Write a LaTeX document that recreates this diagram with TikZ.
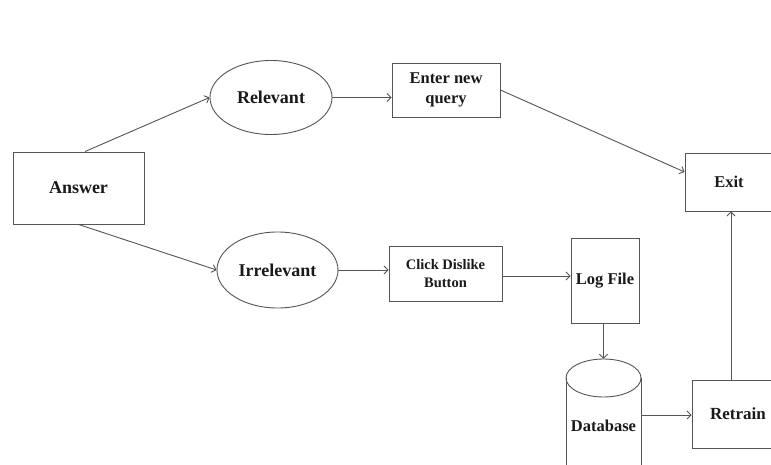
\documentclass[tikz,border=0pt]{standalone}
\usepackage{fontspec}
\setmainfont{Liberation Serif}
\usetikzlibrary{shapes.geometric,arrows.meta}
\definecolor{ln}{HTML}{555555}
\definecolor{tx}{HTML}{1A1A1A}
\tikzset{
  base/.style={draw=ln, line width=0.9pt, inner sep=0pt, text=tx, font=\bfseries\fontsize{16.5}{20}\selectfont, align=center},
  boxnode/.style={base, rectangle},
  ellnode/.style={base, ellipse, font=\bfseries\fontsize{18}{20}\selectfont},
  arr/.style={draw=ln, line width=0.9pt, -{Straight Barb[length=4pt,width=8pt]}},
  plain/.style={draw=ln, line width=0.9pt}
}
\begin{document}
\begin{tikzpicture}[x=1pt,y=-1pt]
\clip (0,0) rectangle (771,465);
\fill[white] (0,0) rectangle (771,465);
% nodes
\node[boxnode, minimum width=131pt, minimum height=72pt, font=\bfseries\fontsize{18}{20}\selectfont] (ans) at (78.5,188) {Answer};
\node[ellnode, minimum width=122pt, minimum height=74pt] (rel) at (271,97.5) {Relevant};
\node[ellnode, minimum width=121pt, minimum height=76pt] (irr) at (277.5,270) {Irrelevant};
\node[boxnode, minimum width=108pt, minimum height=54pt] (enq) at (446,90) {Enter new\\query};
\node[boxnode, minimum width=113pt, minimum height=55pt, font=\bfseries\fontsize{14.5}{18}\selectfont] (cdb) at (445.5,273.5) {Click Dislike\\Button};
\node[boxnode, minimum width=68pt, minimum height=85pt] (lf) at (605,280.5) {Log File};
\node[boxnode, minimum width=88pt, minimum height=58pt] (ex) at (729,182) {Exit};
\node[boxnode, minimum width=92pt, minimum height=68pt, font=\bfseries\fontsize{17}{20}\selectfont] (rt) at (738,414) {Retrain};
% database cylinder
\node[minimum width=75pt, minimum height=112pt, inner sep=0pt] (db) at (603.5,415) {};
\draw[plain, fill=white] (566,378) -- (566,480) -- (641,480) -- (641,378);
\draw[plain] (603.5,378) ellipse [x radius=37.5, y radius=19];
\node[text=tx, font=\bfseries\fontsize{16.5}{20}\selectfont] (dbl) at (603.5,426) {Database};
% connectors
\draw[arr] ([xshift=6.5pt]ans.north) -- (rel.west);
\draw[arr] (ans.south) -- (irr.west);
\draw[arr] (rel.east) -- (rel.east -| enq.west);
\draw[arr] (irr.east) -- (irr.east -| cdb.west);
\draw[arr] (enq.east) -- ([yshift=10pt]ex.west);
\coordinate (c1) at ([yshift=-2.5pt]cdb.east);
\draw[arr] (c1) -- (c1 -| lf.west);
\draw[arr] (lf.south -| db.north) -- (db.north);
\draw[arr] (db.east) -- (db.east -| rt.west);
\coordinate (c2) at ([xshift=-7pt]rt.north);
\draw[arr] (c2) -- (c2 |- ex.south);
\end{tikzpicture}
\end{document}
